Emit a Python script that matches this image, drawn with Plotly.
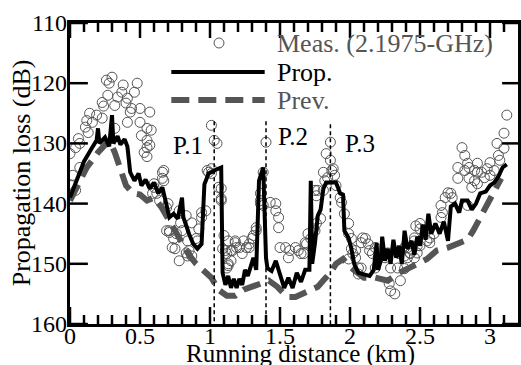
import plotly.graph_objects as go

# ---------------- data ----------------
meas_x = [0.26,0.30,0.28,0.38,0.37,0.48,0.46,0.41,0.34,0.27,0.23,0.24,0.32,0.40,0.44,0.50,0.43,0.57,
          0.14,0.19,0.16,0.12,0.23,0.41,0.50,0.55,0.58,0.51,0.55,0.55,0.57,0.32,0.11,0.13,0.06,0.07,
          0.04,0.00,0.07,0.02,0.01,0.04,0.67,0.66,0.60,0.62,0.69,0.71,0.76,0.53,0.55,
          0.66,0.67,0.60,0.59,0.64,0.70,0.78,0.83,0.94,0.94,0.92,0.87,0.79,0.80,0.71,0.69,0.74,0.73,
          0.84,0.90,0.91,0.85,0.87,0.98,0.99,1.01,1.06,1.08,1.10,1.09,1.12,1.13,1.12,1.18,1.19,1.15,
          1.26,1.28,1.24,1.33,1.38,1.36,0.83,0.84,0.75,0.78,
          1.01,1.03,1.05,1.01,1.08,1.08,0.97,1.13,1.18,1.11,1.16,1.21,1.15,1.13,1.23,1.28,1.30,1.31,
          1.33,1.36,1.36,1.38,1.40,1.43,1.47,1.47,1.49,1.49,1.50,1.54,1.57,1.56,1.61,1.63,1.65,1.68,
          1.70,1.74,1.76,1.75,
          1.67,1.69,1.72,1.75,1.76,1.79,1.77,1.81,1.82,1.84,1.87,1.81,1.86,1.83,1.86,1.88,1.89,1.90,
          1.93,1.94,1.96,1.99,1.99,2.01,2.01,2.02,2.04,2.06,2.06,2.11,2.13,2.14,2.18,2.21,2.20,2.18,
          2.25,2.28,2.29,2.32,2.34,2.35,2.39,2.43,2.46,2.47,2.41,
          1.99,2.04,2.08,2.09,2.16,2.22,2.27,2.29,2.36,2.39,2.46,2.48,2.50,2.55,2.08,
          3.12,3.10,3.05,3.10,3.06,3.07,3.00,2.98,2.94,2.96,3.00,3.03,2.91,2.89,2.91,2.85,2.82,2.80,
          2.82,2.84,2.77,2.77,2.85,2.89,2.91,2.87,2.70,2.72,2.68,2.73,2.65,2.66,2.65,2.84,2.50,2.50,
          2.55,2.57,2.60,2.57,2.46,2.48,2.41,2.43,2.39]
meas_y = [119.5,119.0,120.0,120.3,121.5,120.0,121.5,122.5,122.3,122.0,123.2,123.8,123.7,123.3,124.2,124.2,124.8,124.8,
          125.0,125.3,126.5,126.2,125.8,126.5,126.5,127.5,127.8,128.7,129.5,130.7,130.3,127.5,127.3,128.2,129.2,130.0,
          130.7,131.7,134.0,135.3,137.0,137.8,134.5,135.8,137.3,138.3,140.7,144.5,145.0,131.5,132.2,
          134.8,136.2,136.7,138.3,139.5,140.0,141.2,142.0,141.5,142.3,144.2,143.2,143.2,144.5,144.8,144.5,145.8,147.3,
          146.2,145.8,146.2,147.8,148.7,134.5,134.8,134.2,137.3,139.5,145.3,147.5,148.3,150.0,150.7,146.5,147.3,147.8,
          147.3,147.3,146.2,144.5,140.3,140.0,148.2,148.7,147.5,149.5,
          127.0,129.5,130.0,135.0,137.5,139.2,141.2,146.2,146.2,147.8,147.8,147.3,149.5,150.3,148.3,146.7,145.8,145.3,
          144.0,139.5,138.3,134.8,129.8,139.8,140.0,141.2,142.3,144.0,147.3,147.3,147.8,149.0,147.3,147.8,148.3,146.5,
          145.0,144.2,138.7,137.8,
          148.3,146.7,145.8,144.5,143.3,142.5,137.8,137.8,136.2,135.7,134.5,134.8,132.8,131.7,129.8,134.2,135.3,137.0,
          139.0,139.8,141.7,143.3,145.0,145.8,147.5,148.3,149.0,150.7,151.7,145.8,146.7,147.8,147.3,148.2,149.0,150.7,
          149.0,153.3,154.5,155.0,150.7,148.3,147.3,148.3,145.7,143.7,149.0,
          149.2,147.8,146.5,145.7,148.3,148.7,148.2,150.7,152.8,150.8,149.0,148.2,147.0,146.2,150.7,
          125.3,128.3,130.0,130.8,132.0,132.8,133.2,134.2,134.8,135.7,135.3,134.5,133.3,134.5,134.8,134.0,134.5,130.7,
          132.0,133.3,134.0,135.8,135.8,136.2,136.7,137.3,138.2,138.3,139.0,139.0,140.3,141.5,142.3,140.3,143.3,144.2,
          144.5,145.7,145.0,146.5,146.2,147.0,147.3,148.2,148.7]

prop_x = [0.00,0.05,0.10,0.15,0.19,0.20,0.21,0.25,0.28,0.30,0.31,0.34,0.36,0.39,0.41,0.43,0.46,0.49,0.51,
          0.54,0.57,0.60,0.63,0.66,0.69,0.71,0.74,0.77,0.80,0.81,0.85,0.88,0.91,0.94,0.96,0.99,1.03,1.08,
          1.09,1.11,1.13,1.15,1.17,1.19,1.21,1.23,1.25,1.27,1.29,1.31,1.33,1.35,1.38,1.40,1.41,1.44,1.47,
          1.50,1.53,1.56,1.59,1.62,1.65,1.68,1.71,1.72,1.73,1.75,1.77,1.79,1.81,1.83,1.87,1.90,1.93,1.95,
          1.96,1.99,2.01,2.03,2.06,2.10,2.14,2.17,2.19,2.20,2.22,2.23,2.25,2.27,2.29,2.31,2.33,2.35,2.37,
          2.39,2.41,2.44,2.46,2.48,2.50,2.52,2.54,2.56,2.58,2.61,2.64,2.67,2.70,2.72,2.75,2.78,2.80,2.84,
          2.87,2.90,2.93,2.97,3.00,3.03,3.06,3.09,3.12]
prop_y = [139.0,136.0,133.0,131.0,129.5,127.5,130.0,129.0,130.5,125.3,130.0,128.8,130.2,129.3,130.5,134.8,136.2,135.0,137.0,
          136.0,137.5,136.5,138.3,137.3,140.0,142.3,141.7,142.5,139.0,142.3,145.0,146.7,147.5,146.7,136.8,135.0,134.5,134.0,
          151.5,153.5,152.0,154.0,152.5,154.0,152.5,153.5,151.0,152.0,150.5,149.0,151.0,136.2,134.0,149.0,150.7,151.2,149.5,
          152.0,154.0,152.3,154.0,151.5,153.0,151.0,151.0,136.2,150.0,146.5,142.0,141.0,137.5,136.5,136.5,136.5,138.3,138.5,
          144.5,145.7,147.5,150.0,151.5,151.7,152.0,151.0,146.5,151.0,149.5,145.5,149.5,147.5,150.0,146.0,149.0,147.0,150.0,
          144.5,147.5,146.2,148.5,145.5,147.0,143.5,146.0,141.7,145.0,143.3,145.0,143.0,146.2,140.5,140.0,141.5,139.5,139.5,
          141.0,140.0,138.3,138.0,137.0,136.5,135.5,134.0,133.5]

prev_x = [0.00,0.05,0.12,0.20,0.25,0.28,0.32,0.36,0.40,0.45,0.50,0.55,0.60,0.65,0.70,0.75,0.80,0.85,0.90,
          0.95,1.01,1.06,1.12,1.18,1.24,1.30,1.36,1.42,1.48,1.55,1.61,1.67,1.72,1.77,1.82,1.86,1.90,1.95,
          2.00,2.10,2.18,2.27,2.35,2.43,2.50,2.55,2.62,2.70,2.78,2.84,2.88,2.92,2.96,3.00,3.04,3.08]
prev_y = [139.5,137.0,134.0,131.5,130.0,129.5,131.5,134.5,137.0,138.3,138.5,139.5,139.0,140.5,142.5,144.5,146.5,148.5,150.0,
          151.0,152.3,154.3,155.3,155.3,154.3,153.8,153.3,152.8,153.8,155.5,155.5,154.8,154.3,153.8,152.5,151.5,150.0,149.2,
          150.5,152.3,152.3,152.8,151.5,150.7,149.8,149.2,147.8,147.3,146.7,146.0,144.5,142.8,141.0,139.5,137.3,135.8]

peak_x = [1.03, 1.40, 1.86]
peak_top = [126.3, 126.3, 126.8]
peak_labels = ["P.1", "P.2", "P.3"]
peak_label_x = [0.84, 1.59, 2.07]
peak_label_y = [130.3, 128.8, 130.0]

x_ticks = [0, 0.5, 1, 1.5, 2, 2.5, 3]
x_tick_text = ["0", "0.5", "1", "1.5", "2", "2.5", "3"]
x_minor_ticks = [0.1, 0.2, 0.3, 0.4, 0.6, 0.7, 0.8, 0.9, 1.1, 1.2, 1.3, 1.4, 1.6, 1.7, 1.8, 1.9,
                 2.1, 2.2, 2.3, 2.4, 2.6, 2.7, 2.8, 2.9, 3.1]
y_ticks = [110, 120, 130, 140, 150, 160]
y_tick_text = ["110", "120", "130", "140", "150", "160"]
legend_labels = ["Meas. (2.1975-GHz)", "Prop.", "Prev."]
x_title = "Running distance (km)"
y_title = "Propagation loss (dB)"

# ---------------- style ----------------
FONT = "Liberation Serif"
GREY = "#555555"
W, H = 521, 365
ML, MT, MB, MR = 70, 23, 41, 0
PW, PH = W - ML - MR, H - MT - MB
X_RANGE = [0, 3.2]
Y_RANGE = [160, 110]
TICK_W = 2.5
KM_PER_PX = (X_RANGE[1] - X_RANGE[0]) / PW
DB_PER_PX = abs(Y_RANGE[0] - Y_RANGE[1]) / PH

def px(x):
    return (x - ML) / PW

def py(y):
    return 1 - (y - MT) / PH

fig = go.Figure()

fig.add_trace(go.Scatter(x=meas_x, y=meas_y, mode="markers",
                         marker=dict(symbol="circle-open", size=10, color=GREY, line=dict(width=1, color=GREY)),
                         showlegend=False))
fig.add_trace(go.Scatter(x=prev_x, y=prev_y, mode="lines",
                         line=dict(color=GREY, width=6, dash="18px,9px"), showlegend=False))
fig.add_trace(go.Scatter(x=prop_x, y=prop_y, mode="lines",
                         line=dict(color="black", width=4), showlegend=False))

for xv, top in zip(peak_x, peak_top):
    fig.add_trace(go.Scatter(x=[xv, xv], y=[top, 160], mode="lines",
                             line=dict(color="black", width=1.5, dash="4px,3px"), showlegend=False))

for lbl, lx, ly in zip(peak_labels, peak_label_x, peak_label_y):
    fig.add_annotation(x=lx, y=ly, text=lbl, showarrow=False, xanchor="center", yanchor="middle",
                       font=dict(family=FONT, size=25, color="black"))

# ---- axis ticks (inside, mirrored), built from the tick lists ----
tx, ty = [], []
ybot, ytop = Y_RANGE[0], Y_RANGE[1]
for xv in x_ticks:
    tx += [xv, xv, None, xv, xv, None]
    ty += [ybot, ybot - 17 * DB_PER_PX, None, ytop, ytop + 15 * DB_PER_PX, None]
for xv in x_minor_ticks:
    tx += [xv, xv, None, xv, xv, None]
    ty += [ybot, ybot - 9 * DB_PER_PX, None, ytop, ytop + 9 * DB_PER_PX, None]
for yv in y_ticks:
    tx += [X_RANGE[0], X_RANGE[0] + 18 * KM_PER_PX, None, X_RANGE[1], X_RANGE[1] - 16 * KM_PER_PX, None]
    ty += [yv, yv, None, yv, yv, None]
fig.add_trace(go.Scatter(x=tx, y=ty, mode="lines", line=dict(color="black", width=TICK_W),
                         hoverinfo="skip", showlegend=False))

# tick labels
for xv, txt in zip(x_ticks, x_tick_text):
    fig.add_annotation(x=xv, xref="x", y=py(336), yref="paper", text=txt, showarrow=False,
                       xanchor="center", yanchor="middle", font=dict(family=FONT, size=24, color="black"))
for yv, txt in zip(y_ticks, y_tick_text):
    fig.add_annotation(x=px(68.5), xref="paper", y=yv, yref="y", text=txt, showarrow=False,
                       xanchor="right", yanchor="middle", font=dict(family=FONT, size=24, color="black"))

# manual legend
leg_rows = [43, 72, 100]
fig.add_shape(type="circle", xref="paper", yref="paper",
              x0=px(215), x1=px(225), y0=py(48), y1=py(38), line=dict(color=GREY, width=1))
fig.add_shape(type="line", xref="paper", yref="paper", x0=px(172), x1=px(266), y0=py(72), y1=py(72),
              line=dict(color="black", width=4))
fig.add_shape(type="line", xref="paper", yref="paper", x0=px(172), x1=px(266), y0=py(100), y1=py(100),
              line=dict(color=GREY, width=6, dash="18px,9px"))
for lbl, row, col in zip(legend_labels, leg_rows, [GREY, "black", GREY]):
    fig.add_annotation(xref="paper", yref="paper", x=px(276), y=py(row), text=lbl, showarrow=False,
                       xanchor="left", yanchor="middle", font=dict(family=FONT, size=26, color=col))

fig.add_annotation(xref="paper", yref="paper", x=px(302), y=py(354), text=x_title, showarrow=False,
                   xanchor="center", yanchor="middle", font=dict(family=FONT, size=25, color="black"))
fig.add_annotation(xref="paper", yref="paper", x=px(22), y=py(173), text=y_title, showarrow=False,
                   textangle=-90, xanchor="center", yanchor="middle",
                   font=dict(family=FONT, size=26, color="black"))

axis_common = dict(showgrid=False, zeroline=False, showline=True, linecolor="black", linewidth=3,
                   mirror=True, ticks="", showticklabels=False)

fig.update_xaxes(range=X_RANGE, **axis_common)
fig.update_yaxes(range=Y_RANGE, **axis_common)

fig.update_layout(width=W, height=H, margin=dict(l=ML, r=MR, t=MT, b=MB),
                  paper_bgcolor="white", plot_bgcolor="white",
                  font=dict(family=FONT, size=24, color="black"))

fig.write_html("out.html", config={"displayModeBar": False},
               post_script="document.body.style.margin='0';")
